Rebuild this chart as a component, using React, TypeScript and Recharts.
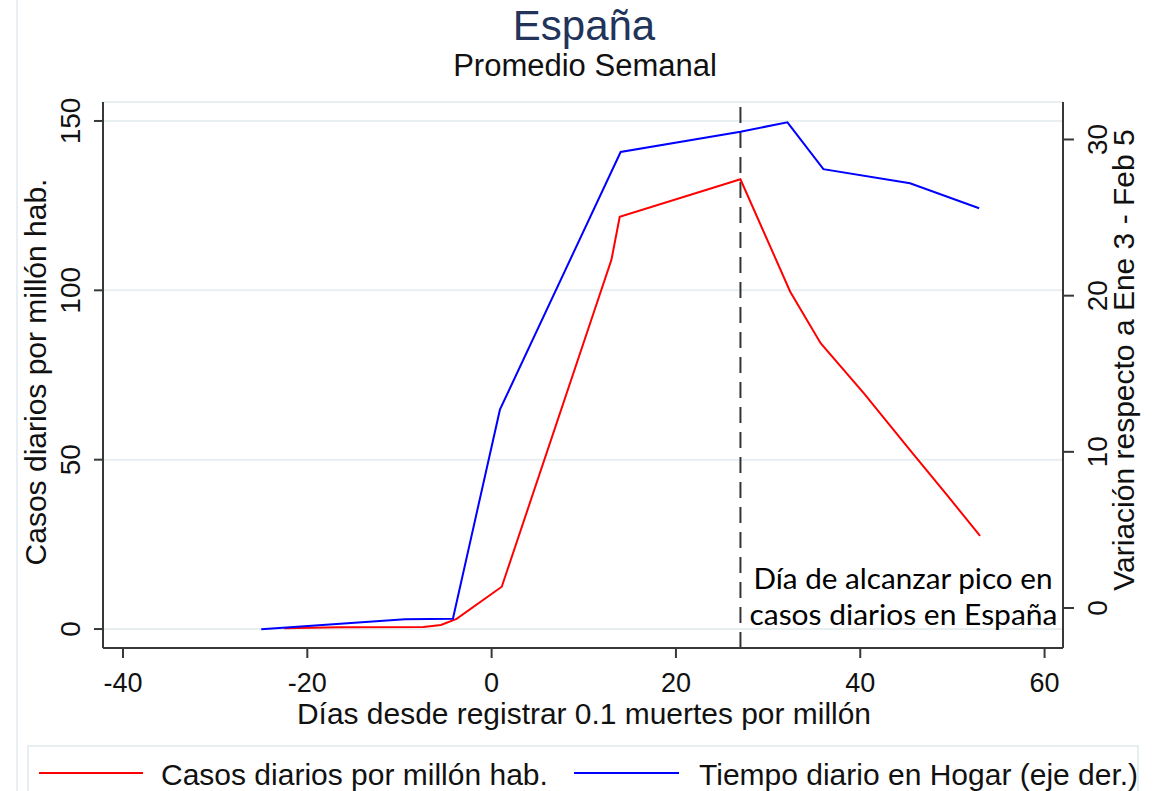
import React from "react";
import { CartesianGrid, Line, LineChart, ReferenceLine, XAxis, YAxis } from "recharts";

// días desde 0.1 muertes por millón -> casos diarios por millón (media semanal)
const casosDias = [-22.5, -16.6, -7.4, -5.5, -3.8, 1.1, 13, 13.9, 27, 32.4, 35.7, 40.4, 45.4, 49.4, 53];
const casosValores = [0.2, 0.5, 0.6, 1.2, 3.0, 12.5, 109, 121.7, 132.8, 99.6, 84.4, 69.6, 52.8, 39.6, 27.5];

// tiempo en hogar, variación respecto a Ene 3 - Feb 5 (eje derecho)
const hogarDias = [-25, -9.4, -4.2, 0.9, 14, 27, 32.1, 36, 45.4, 52.9];
const hogarValores = [-1.36, -0.72, -0.68, 12.7, 29.2, 30.5, 31.1, 28.1, 27.2, 25.6];

const xTicks = [-40, -20, 0, 20, 40, 60];
const casosTicks = [0, 50, 100, 150];
const hogarTicks = [0, 10, 20, 30];
const diaPico = 27;

const casos = casosDias.map((x, i) => ({ x, casos: casosValores[i] }));
const hogar = hogarDias.map((x, i) => ({ x, hogar: hogarValores[i] }));

const FONT = '"Liberation Sans", Arial, sans-serif';
const W = 1175;
const H = 791;
const AXIS = "#383838";

const LeftTick = (p: any) => {
  const x = p.x - 14;
  return (
    <text x={x} y={p.y} transform={`rotate(-90 ${x} ${p.y})`} textAnchor="middle" fontSize={28} fontFamily={FONT} fill="#111">
      {p.payload.value}
    </text>
  );
};

const RightTick = (p: any) => {
  const x = p.x + 33;
  return (
    <text x={x} y={p.y} transform={`rotate(-90 ${x} ${p.y})`} textAnchor="middle" fontSize={28} fontFamily={FONT} fill="#111">
      {p.payload.value}
    </text>
  );
};

const BottomTick = (p: any) => (
  <text x={p.x} y={p.y + 34} textAnchor="middle" fontSize={27} fontFamily={FONT} fill="#111">
    {p.payload.value}
  </text>
);

const PicoLabel = (p: any) => {
  const vx = p.viewBox ? p.viewBox.x : 740;
  return (
    <g fontFamily="Lato, 'Open Sans', sans-serif" fontSize={28} fill="#000">
      <text x={vx + 13} y={589} textLength={299} lengthAdjust="spacingAndGlyphs">Día de alcanzar pico en</text>
      <text x={vx + 9} y={625} textLength={308} lengthAdjust="spacingAndGlyphs">casos diarios en España</text>
    </g>
  );
};

export default function App() {
  return (
    <div style={{ position: "absolute", left: 0, top: 0, width: W, height: H, background: "#fff" }}>
      <LineChart width={W} height={H} margin={{ top: 102, right: 32, bottom: 63, left: 23 }}>
        <CartesianGrid yAxisId="left" horizontal vertical={false} stroke="#e7eff1" strokeWidth={2} />
        <XAxis
          dataKey="x"
          type="number"
          domain={[-42.17, 62]}
          ticks={xTicks}
          allowDataOverflow
          height={80}
          tickSize={10}
          tickMargin={0}
          stroke={AXIS}
          strokeWidth={2}
          tick={<BottomTick />}
          label={{
            content: () => (
              <text x={584} y={724} textAnchor="middle" fontSize={29} fontFamily={FONT} fill="#111" textLength={574} lengthAdjust="spacingAndGlyphs">
                Días desde registrar 0.1 muertes por millón
              </text>
            ),
          }}
        />
        <YAxis
          yAxisId="left"
          type="number"
          domain={[-5.6, 155.6]}
          ticks={casosTicks}
          allowDataOverflow
          width={80}
          tickSize={9}
          tickMargin={0}
          stroke={AXIS}
          strokeWidth={2}
          tick={<LeftTick />}
          label={{
            content: () => (
              <text x={46} y={372} transform="rotate(-90 46 372)" textAnchor="middle" fontSize={30} fontFamily={FONT} fill="#111">
                Casos diarios por millón hab.
              </text>
            ),
          }}
        />
        <YAxis
          yAxisId="right"
          orientation="right"
          type="number"
          domain={[-2.56, 32.4]}
          ticks={hogarTicks}
          allowDataOverflow
          width={80}
          tickSize={11}
          tickMargin={0}
          stroke={AXIS}
          strokeWidth={2}
          tick={<RightTick />}
          label={{
            content: () => (
              <text x={1134} y={360} transform="rotate(-90 1134 360)" textAnchor="middle" fontSize={30} fontFamily={FONT} fill="#111">
                Variación respecto a Ene 3 - Feb 5
              </text>
            ),
          }}
        />
        <ReferenceLine
          x={diaPico}
          yAxisId="left"
          stroke="#333"
          strokeWidth={2}
          strokeDasharray="16 9"
          label={<PicoLabel />}
        />
        <Line
          data={casos}
          dataKey="casos"
          yAxisId="left"
          type="linear"
          stroke="#ff0000"
          strokeWidth={2}
          dot={false}
          isAnimationActive={false}
        />
        <Line
          data={hogar}
          dataKey="hogar"
          yAxisId="right"
          type="linear"
          stroke="#0000ff"
          strokeWidth={2}
          dot={false}
          isAnimationActive={false}
        />
      </LineChart>
      <svg width={W} height={H} style={{ position: "absolute", left: 0, top: 0, pointerEvents: "none" }}>
        <line x1={17} y1={0} x2={17} y2={H} stroke="#e8eef2" strokeWidth={2} />
        <text x={584} y={40} textAnchor="middle" fontSize={42} fontFamily={FONT} fill="#22345a">
          España
        </text>
        <text x={585} y={76} textAnchor="middle" fontSize={31} fontFamily={FONT} fill="#111">
          Promedio Semanal
        </text>
        <rect x={28} y={746} width={1110} height={70} fill="none" stroke="#e6eef0" strokeWidth={2} />
        <line x1={39} y1={773} x2={143} y2={773} stroke="#ff0000" strokeWidth={2} />
        <text x={161} y={785} fontSize={30} fontFamily={FONT} fill="#111">
          Casos diarios por millón hab.
        </text>
        <line x1={574} y1={773} x2={679} y2={773} stroke="#0000ff" strokeWidth={2} />
        <text x={699} y={785} fontSize={30} fontFamily={FONT} fill="#111">
          Tiempo diario en Hogar (eje der.)
        </text>
      </svg>
    </div>
  );
}
